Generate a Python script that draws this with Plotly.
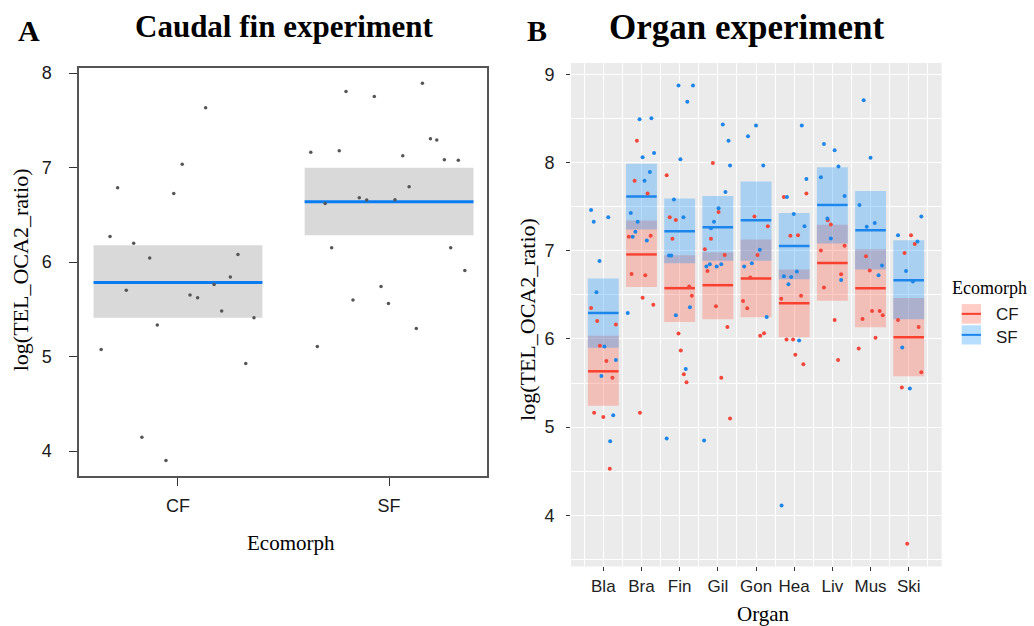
import plotly.graph_objects as go

# ---------------- Panel A data (Caudal fin experiment) ----------------
a_groups = ["CF", "SF"]
a_mean = [5.783, 6.638]
a_lo = [5.411, 6.284]
a_hi = [6.179, 6.999]

a_cf_vals = [7.634, 7.035, 6.786, 6.726, 6.270, 6.200, 6.042, 6.081, 5.842, 5.762,
             5.702, 5.653, 5.622, 5.482, 5.411, 5.334, 5.075, 4.928, 4.146, 3.901]
a_cf_jit = [0.131, 0.020, -0.286, -0.020, -0.322, -0.210, -0.134, 0.284, 0.248, 0.171,
            -0.245, 0.057, 0.093, 0.207, 0.360, -0.098, -0.364, 0.321, -0.171, -0.057]
a_sf_vals = [7.893, 7.805, 7.753, 7.304, 7.293, 7.161, 7.178, 7.125, 7.083, 7.077,
             6.796, 6.680, 6.656, 6.659, 6.620, 6.151, 6.151, 5.910, 5.741, 5.600,
             5.563, 5.296, 5.106]
a_sf_jit = [0.158, -0.204, -0.070, 0.196, 0.226, -0.371, -0.236, 0.065, 0.262, 0.328,
            0.095, -0.141, -0.106, 0.028, -0.303, -0.272, 0.292, 0.359, -0.038, -0.171,
            -0.003, 0.129, -0.340]

# ---------------- Panel B data (Organ experiment) ----------------
organs = ["Bla", "Bra", "Fin", "Gil", "Gon", "Hea", "Liv", "Mus", "Ski"]
cf_mean = [5.633, 6.958, 6.575, 6.609, 6.685, 6.403, 6.860, 6.575, 6.020]
cf_lo = [5.243, 6.587, 6.193, 6.223, 6.245, 6.020, 6.432, 6.133, 5.577]
cf_hi = [6.035, 7.341, 6.947, 6.981, 7.127, 6.786, 7.293, 7.015, 6.463]
sf_mean = [6.294, 7.615, 7.221, 7.266, 7.345, 7.052, 7.518, 7.232, 6.665]
sf_lo = [5.900, 7.240, 6.857, 6.887, 6.887, 6.677, 7.082, 6.786, 6.223]
sf_hi = [6.685, 7.986, 7.592, 7.619, 7.784, 7.428, 7.946, 7.676, 7.119]

sf_pt_organ = (["Bla"] * 10 + ["Bra"] * 12 + ["Fin"] * 12 + ["Gil"] * 12 + ["Gon"] * 7
               + ["Hea"] * 11 + ["Liv"] * 8 + ["Mus"] * 7 + ["Ski"] * 7)
sf_pt_val = [7.461, 7.327, 7.378, 6.883, 6.530, 5.914, 5.761, 5.581, 5.134, 4.841,
             8.490, 8.501, 8.107, 8.059, 7.893, 7.792, 7.428, 7.327, 7.214, 7.158, 7.116, 6.294,
             8.873, 8.873, 8.689, 8.036, 7.581, 7.378, 6.944, 6.944, 6.268, 6.358, 5.660, 4.871,
             8.430, 8.246, 7.964, 7.664, 7.480, 7.327, 7.255, 6.846, 6.820, 6.820, 6.846, 4.849,
             8.419, 8.298, 7.964, 7.011, 6.857, 6.820, 6.249,
             8.419, 7.811, 7.417, 7.277, 6.764, 6.711, 6.703, 6.620, 7.608, 5.982, 4.113,
             8.208, 8.137, 7.953, 7.833, 7.619, 7.364, 7.139, 6.669,
             8.704, 8.054, 7.518, 7.315, 7.270, 6.831, 6.722,
             7.386, 7.176, 7.105, 6.770, 6.651, 5.903, 5.438]
sf_pt_jit = [-0.32, -0.25, 0.13, -0.10, -0.18, 0.03, 0.33, -0.05, 0.26, 0.18,
             -0.05, 0.26, 0.33, 0.03, 0.22, 0.08, -0.28, -0.10, -0.16, -0.23, 0.14, -0.36,
             -0.03, 0.35, 0.20, 0.02, -0.15, 0.10, -0.28, -0.22, -0.10, 0.27, 0.16, -0.34,
             0.13, 0.28, 0.32, 0.20, 0.02, -0.10, -0.18, -0.21, -0.30, -0.03, 0.09, -0.36,
             0.00, -0.21, 0.19, 0.10, -0.11, -0.31, 0.28,
             0.20, 0.32, -0.01, 0.27, 0.07, -0.27, -0.08, -0.15, -0.19, 0.13, -0.33,
             -0.22, 0.06, 0.16, -0.30, 0.32, -0.13, -0.04, 0.23,
             -0.18, 0.00, -0.29, 0.11, -0.10, 0.30, 0.21,
             0.33, -0.28, 0.23, -0.07, 0.11, -0.17, 0.03]

cf_pt_organ = (["Bla"] * 9 + ["Bra"] * 10 + ["Fin"] * 10 + ["Gil"] * 10 + ["Gon"] * 8
               + ["Hea"] * 10 + ["Liv"] * 8 + ["Mus"] * 8 + ["Ski"] * 8)
cf_pt_val = [6.350, 6.204, 6.162, 5.922, 5.750, 5.559, 5.164, 5.115, 4.529,
             8.246, 7.792, 7.649, 7.158, 7.169, 6.737, 6.722, 6.466, 6.387, 5.164,
             7.856, 7.378, 7.349, 7.135, 6.595, 6.489, 6.061, 5.869, 5.599, 5.509,
             7.994, 7.439, 7.135, 7.015, 6.950, 6.770, 6.369, 6.136, 5.559, 5.097,
             7.386, 7.277, 6.950, 6.696, 6.430, 6.347, 6.035, 6.065,
             7.608, 7.649, 7.169, 7.176, 6.489, 6.455, 5.993, 5.993, 5.821, 5.712,
             7.296, 7.345, 7.003, 7.056, 6.733, 6.583, 6.215, 5.761,
             6.936, 6.775, 6.316, 6.316, 6.268, 6.226, 6.012, 5.892,
             7.176, 7.075, 6.973, 6.215, 6.136, 5.622, 5.449, 3.678]
cf_pt_jit = [-0.32, -0.16, 0.33, -0.09, 0.08, 0.24, -0.24, 0.00, 0.17,
             -0.12, -0.18, 0.16, -0.33, 0.24, -0.26, 0.10, 0.03, 0.31, -0.04,
             -0.34, -0.26, -0.10, -0.19, 0.25, 0.32, -0.03, 0.03, 0.11, 0.18,
             -0.13, 0.02, -0.18, -0.34, 0.18, -0.27, -0.05, 0.25, 0.09, 0.32,
             -0.04, 0.31, 0.04, -0.15, -0.34, -0.23, 0.11, 0.21,
             -0.27, 0.32, -0.10, 0.10, 0.18, -0.34, -0.20, -0.03, 0.03, 0.24,
             -0.04, -0.12, -0.30, 0.32, 0.23, -0.22, 0.06, 0.15,
             -0.12, -0.02, 0.04, 0.24, 0.32, -0.21, 0.13, -0.31,
             0.06, 0.16, -0.11, -0.28, 0.26, 0.33, -0.18, -0.04]

# ---------------- styling ----------------
SERIF = "Liberation Serif"
SANS = "Liberation Sans"
BAND_W = 0.8
RED_LINE = "#F9402F"
BLUE_LINE = "#1C86EC"
RED_FILL = "rgba(255,85,65,0.30)"
BLUE_FILL = "rgba(18,145,252,0.30)"
W, H = 1034, 626

fig = go.Figure()

# ----- Panel A -----
a_x = list(range(1, len(a_groups) + 1))
fig.add_trace(go.Bar(x=a_x, y=[h - l for h, l in zip(a_hi, a_lo)], base=a_lo,
                     width=BAND_W, marker=dict(color="#D9D9D9", line=dict(width=0)),
                     xaxis="x", yaxis="y", showlegend=False, hoverinfo="skip"))
mx, my = [], []
for i, m in zip(a_x, a_mean):
    mx += [i - BAND_W / 2, i + BAND_W / 2, None]
    my += [m, m, None]
fig.add_trace(go.Scatter(x=mx, y=my, mode="lines", line=dict(color="#0A7CF2", width=3),
                         xaxis="x", yaxis="y", showlegend=False))
fig.add_trace(go.Scatter(x=[1 + j for j in a_cf_jit] + [2 + j for j in a_sf_jit],
                         y=a_cf_vals + a_sf_vals, mode="markers",
                         marker=dict(color="#555555", size=3.5),
                         xaxis="x", yaxis="y", showlegend=False))

# ----- Panel B -----
b_x = list(range(1, len(organs) + 1))
pos = {o: i for o, i in zip(organs, b_x)}
fig.add_trace(go.Bar(x=b_x, y=[h - l for h, l in zip(cf_hi, cf_lo)], base=cf_lo,
                     width=BAND_W + 0.01, marker=dict(color=RED_FILL, line=dict(width=0)),
                     xaxis="x2", yaxis="y2", showlegend=False, hoverinfo="skip"))
fig.add_trace(go.Bar(x=b_x, y=[h - l for h, l in zip(sf_hi, sf_lo)], base=sf_lo,
                     width=BAND_W + 0.01, marker=dict(color=BLUE_FILL, line=dict(width=0)),
                     xaxis="x2", yaxis="y2", showlegend=False, hoverinfo="skip"))
for means, col in ((cf_mean, RED_LINE), (sf_mean, BLUE_LINE)):
    lx, ly = [], []
    for i, m in zip(b_x, means):
        lx += [i - BAND_W / 2, i + BAND_W / 2, None]
        ly += [m, m, None]
    fig.add_trace(go.Scatter(x=lx, y=ly, mode="lines", line=dict(color=col, width=2.5),
                             xaxis="x2", yaxis="y2", showlegend=False))
fig.add_trace(go.Scatter(x=[pos[o] + j for o, j in zip(cf_pt_organ, cf_pt_jit)], y=cf_pt_val,
                         mode="markers", marker=dict(color="#F3473B", size=4),
                         xaxis="x2", yaxis="y2", showlegend=False))
fig.add_trace(go.Scatter(x=[pos[o] + j for o, j in zip(sf_pt_organ, sf_pt_jit)], y=sf_pt_val,
                         mode="markers", marker=dict(color="#1E86E8", size=4),
                         xaxis="x2", yaxis="y2", showlegend=False))

def px(x):
    return x / W

def py(y):
    return 1 - y / H

axA_x = [px(79), px(487)]
axA_y = [py(475), py(64)]
axB_x = [px(571), px(941.7)]
axB_y = [py(566), py(59.3)]

fig.update_layout(
    width=W, height=H, margin=dict(l=0, r=0, t=0, b=0),
    paper_bgcolor="white", plot_bgcolor="white", barmode="overlay",
    xaxis=dict(domain=axA_x, anchor="y", range=[0.531, 2.464], tickvals=a_x, ticktext=a_groups,
               showline=True, mirror=True, linecolor="#555555", linewidth=1.5,
               ticks="outside", ticklen=8, tickcolor="#333333", showgrid=False, zeroline=False,
               tickfont=dict(family=SANS, size=18, color="#1a1a1a"), ticklabelstandoff=5),
    yaxis=dict(domain=axA_y, anchor="x", range=[3.737, 8.058], tickvals=[4, 5, 6, 7, 8],
               showline=True, mirror=True, linecolor="#555555", linewidth=1.5,
               ticks="outside", ticklen=8, tickcolor="#333333", showgrid=False, zeroline=False,
               tickfont=dict(family=SANS, size=18, color="#1a1a1a"), ticklabelstandoff=14),
    xaxis2=dict(domain=axB_x, anchor="y2", range=[0.154, 9.864], tickvals=b_x, ticktext=organs,
                showline=False, ticks="outside", ticklen=4, tickcolor="#333333",
                showgrid=True, gridcolor="white", gridwidth=1.4, zeroline=False,
                minor=dict(tick0=0.5, dtick=1, showgrid=True, gridcolor="white", gridwidth=0.8),
                tickfont=dict(family=SANS, size=17, color="#222222"), ticklabelstandoff=0),
    yaxis2=dict(domain=axB_y, anchor="x2", range=[3.422, 9.128], tickvals=[4, 5, 6, 7, 8, 9],
                showline=False, ticks="outside", ticklen=4, tickcolor="#333333",
                showgrid=True, gridcolor="white", gridwidth=1.4, zeroline=False,
                minor=dict(tick0=0.5, dtick=1, showgrid=True, gridcolor="white", gridwidth=0.8),
                tickfont=dict(family=SANS, size=18, color="#222222"), ticklabelstandoff=8),
)

# gray panel background for B
fig.add_shape(type="rect", xref="x2 domain", yref="y2 domain", x0=0, x1=1, y0=0, y1=1,
              fillcolor="#EBEBEB", line=dict(width=0), layer="below")

ann = []
ann.append(dict(text="<b>A</b>", x=px(29), y=py(27), font=dict(family=SERIF, size=30, color="black")))
ann.append(dict(text="<b>Caudal fin experiment</b>", x=px(284), y=py(23), font=dict(family=SERIF, size=31, color="black")))
ann.append(dict(text="<b>B</b>", x=px(537), y=py(27), font=dict(family=SERIF, size=30, color="black")))
ann.append(dict(text="<b>Organ experiment</b>", x=px(746), y=py(24), font=dict(family=SERIF, size=35, color="black")))
ann.append(dict(text="log(TEL_OCA2_ratio)", x=px(20), y=py(268), textangle=-90, font=dict(family=SERIF, size=22, color="black")))
ann.append(dict(text="Ecomorph", x=px(291), y=py(542), font=dict(family=SERIF, size=21, color="black")))
ann.append(dict(text="log(TEL_OCA2_ratio)", x=px(528), y=py(318), textangle=-90, font=dict(family=SERIF, size=22, color="black")))
ann.append(dict(text="Organ", x=px(763), y=py(614), font=dict(family=SERIF, size=21, color="black")))
ann.append(dict(text="Ecomorph", x=px(989), y=py(286), font=dict(family=SERIF, size=18, color="black")))
ann.append(dict(text="CF", x=px(1007), y=py(312), font=dict(family=SANS, size=17, color="#1a1a1a")))
ann.append(dict(text="SF", x=px(1007), y=py(336), font=dict(family=SANS, size=17, color="#1a1a1a")))
for a in ann:
    a.update(xref="paper", yref="paper", showarrow=False, xanchor="center", yanchor="middle")
    fig.add_annotation(**a)

# legend keys (manual)
for (y0, y1, fill, line) in ((302, 321.7, RED_FILL, RED_LINE), (323.3, 342.7, BLUE_FILL, BLUE_LINE)):
    fig.add_shape(type="rect", xref="paper", yref="paper", x0=px(961.7), x1=px(981),
                  y0=py(y1), y1=py(y0), fillcolor=fill, line=dict(width=0))
    fig.add_shape(type="line", xref="paper", yref="paper", x0=px(961.7), x1=px(981),
                  y0=py((y0 + y1) / 2), y1=py((y0 + y1) / 2), line=dict(color=line, width=2))

fig.write_html("out.html", config={"displayModeBar": False},
               post_script="document.body.style.margin='0';document.body.style.overflow='hidden';")
